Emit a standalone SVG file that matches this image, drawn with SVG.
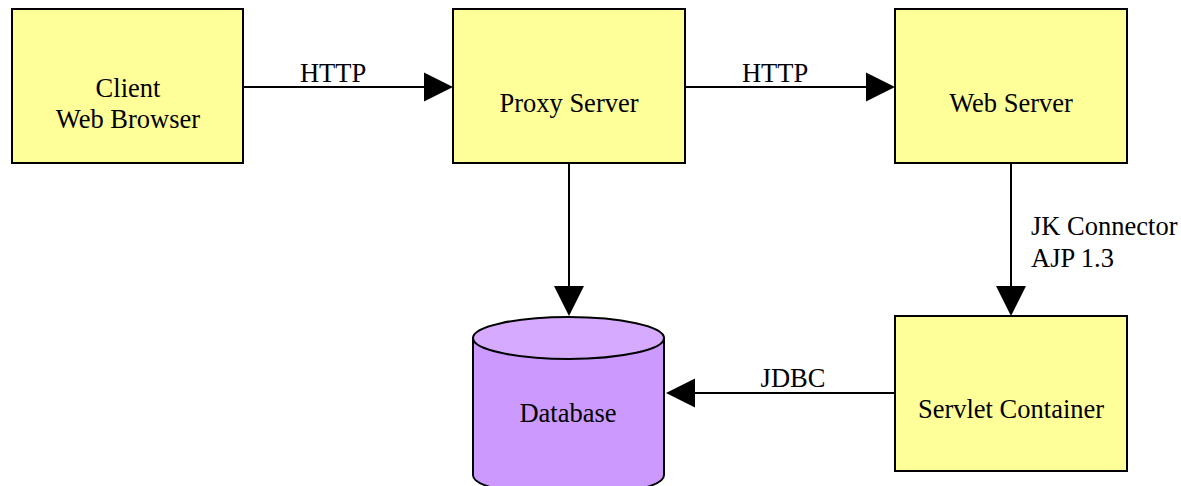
<svg xmlns="http://www.w3.org/2000/svg" width="1181" height="486" viewBox="0 0 1181 486">
<style>
.box{fill:#FFFF99;stroke:#000;stroke-width:2}
.t{font-family:'Liberation Serif','Times New Roman',serif;font-size:26.5px;fill:#000}
.c{text-anchor:middle}
.ln{stroke:#000;stroke-width:2;fill:none}
.ah{fill:#000}
</style>
<rect width="1181" height="486" fill="#fff"/>
<g id="client">
<rect class="box" x="12" y="9" width="231" height="154"/>
<text class="t c" x="128" y="97">Client</text>
<text class="t c" x="128" y="128">Web Browser</text>
</g>
<g id="proxy">
<rect class="box" x="453" y="9" width="232" height="154"/>
<text class="t c" x="569" y="112">Proxy Server</text>
</g>
<g id="webserver">
<rect class="box" x="895" y="9" width="232" height="154"/>
<text class="t c" x="1011" y="112">Web Server</text>
</g>
<g id="servlet">
<rect class="box" x="895" y="316" width="232" height="155"/>
<text class="t c" x="1011" y="418">Servlet Container</text>
</g>
<g id="database">
<path d="M473,338 L473,475 A95.5,21 0 0 0 664,475 L664,338 Z" fill="#CC99FF" stroke="#000" stroke-width="2"/>
<ellipse cx="568.5" cy="338" rx="95.5" ry="21" fill="#D6ABFF" stroke="#000" stroke-width="2"/>
<text class="t c" x="568" y="422">Database</text>
</g>
<g id="connectors">
<line class="ln" x1="243" y1="87" x2="426" y2="87"/>
<polygon class="ah" points="453,87 424,72.5 424,101.5"/>
<text class="t c" x="333" y="82">HTTP</text>
<line class="ln" x1="685" y1="87" x2="868" y2="87"/>
<polygon class="ah" points="895,87 866,72.5 866,101.5"/>
<text class="t c" x="775" y="82">HTTP</text>
<line class="ln" x1="569" y1="163" x2="569" y2="288"/>
<polygon class="ah" points="569,316 554,286 584,286"/>
<line class="ln" x1="1011" y1="163" x2="1011" y2="288"/>
<polygon class="ah" points="1011,316 996,286 1026,286"/>
<text class="t" x="1031" y="235">JK Connector</text>
<text class="t" x="1031" y="267">AJP 1.3</text>
<line class="ln" x1="895" y1="393" x2="693" y2="393"/>
<polygon class="ah" points="666,393 695,378.5 695,407.5"/>
<text class="t c" x="793" y="387">JDBC</text>
</g>
</svg>
